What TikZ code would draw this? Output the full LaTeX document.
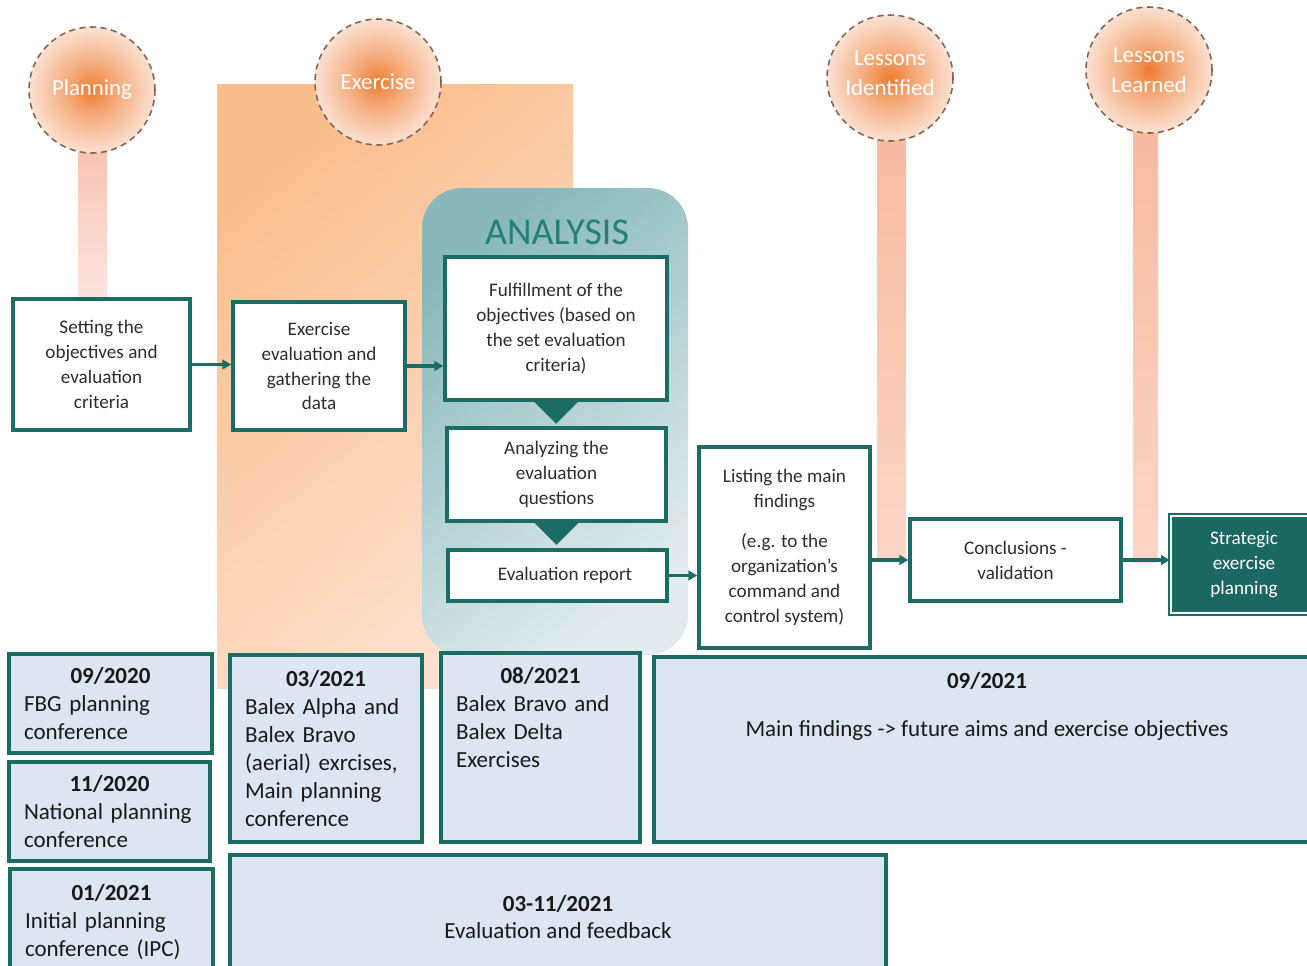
\documentclass[tikz,border=0pt]{standalone}
\usepackage{fontspec}
\setmainfont{Carlito}
\usetikzlibrary{arrows.meta}

\definecolor{tealline}{RGB}{28,108,102}
\definecolor{stratfill}{RGB}{27,104,98}
\definecolor{anatext}{RGB}{36,128,120}
\definecolor{anadark}{RGB}{136,184,186}
\definecolor{analight}{RGB}{226,236,238}
\definecolor{dateblue}{RGB}{220,230,242}
\definecolor{textgray}{RGB}{45,45,45}
\definecolor{textdark}{RGB}{25,25,25}
\definecolor{rectdark}{RGB}{250,190,142}
\definecolor{rectlight}{RGB}{253,226,208}
\definecolor{dashbrown}{RGB}{140,98,78}
\definecolor{phasecore}{RGB}{238,124,48}
\definecolor{phasemid}{RGB}{245,170,122}
\definecolor{phaseedge}{RGB}{251,236,228}
\definecolor{stemtop}{RGB}{248,186,160}
\definecolor{stembot}{RGB}{252,214,198}
\definecolor{plantop}{RGB}{248,196,180}
\definecolor{planbot}{RGB}{252,230,224}

\pgfdeclareradialshading{phaseglow}{\pgfpoint{0bp}{0bp}}{%
  color(0bp)=(phasecore); color(10bp)=(phasemid); color(28bp)=(phaseedge); color(50bp)=(phaseedge)}

\newcommand\datehead[1]{\hfill\textbf{#1}\hfill\null}

\begin{document}
\begin{tikzpicture}[x=0.02cm,y=-0.02cm,
    stepbox/.style={draw=tealline, line width=2pt, fill=white, align=center, text=textgray,
      inner sep=0pt, font=\fontsize{10.9}{14.2}\selectfont},
    datebox/.style={draw=tealline, line width=2.1pt, fill=dateblue, align=left, text=textdark,
      inner xsep=0.3cm, inner ysep=0pt, font=\fontsize{13.1}{15.9}\selectfont},
    datetext/.style={text=textdark, font=\fontsize{13.1}{15.9}\selectfont},
    phase/.style={circle, draw=dashbrown, dash pattern=on 3.5pt off 2.5pt, line width=0.9pt,
      shade, shading=phaseglow, minimum size=2.52cm, inner sep=0pt, text=white, align=center,
      font=\fontsize{13}{17}\selectfont},
    flow/.style={draw=tealline, line width=2pt, -{Triangle[length=5pt,width=5.5pt]}}]

    \useasboundingbox (0,0) rectangle (1307,965);
    \clip (0,0) rectangle (1307,965);

    \shade[top color=rectdark, bottom color=rectlight, shading angle=40] (217,84) rectangle (573,688);
    \shade[top color=anadark, bottom color=analight, shading angle=40, rounded corners=0.8cm] (422,188) rectangle (688,655);
    \node[font=\fontsize{21.6}{26}\selectfont, text=anatext] (anatitle) at (557,232) {ANALYSIS};

    \shade[top color=plantop, bottom color=planbot] (78,150) rectangle (107,300);
    \shade[top color=stemtop, bottom color=stembot] (877,138) rectangle (906,560);
    \shade[top color=stemtop, bottom color=stembot] (1133,130) rectangle (1158,562);

    \node[phase] (plan) at (92,90) {Planning};
    \node[phase] (exer) at (378,82) {Exercise};
    \node[phase] (lessid) at (890,78) {Lessons\\Identified\\[-11pt]};
    \node[phase] (lesslrn) at (1149,70) {Lessons\\Learned};

    \node[stepbox, minimum width=3.54cm, minimum height=2.62cm] (setobj) at (101.5,364.5) {Setting the\\objectives and\\evaluation\\criteria};
    \node[stepbox, minimum width=3.44cm, minimum height=2.56cm] (gather) at (319,366) {Exercise\\evaluation and\\gathering the\\data};
    \node[stepbox, minimum width=4.44cm, minimum height=2.86cm] (fulfil) at (556,328.5) {Fulfillment of the\\objectives (based on\\the set evaluation\\criteria)};
    \node[stepbox, minimum width=4.38cm, minimum height=1.86cm] (questions) at (556.5,474.5) {Analyzing the\\evaluation\\questions};
    \node[stepbox, minimum width=4.38cm, minimum height=1.02cm] (report) at (557.5,575.5) {\hspace{0.3cm}Evaluation report};
    \node[stepbox, minimum width=3.42cm, minimum height=4.02cm] (findings) at (784.5,547.5) {Listing the main\\findings\\[0.8em](e.g. to the\\organization’s\\command and\\control system)};
    \node[stepbox, minimum width=4.22cm, minimum height=1.64cm] (conclude) at (1015.5,560) {Conclusions -\\validation};
    \node[stepbox, fill=stratfill, text=white, double=white, double distance=0.7pt, line width=1.4pt,
      minimum width=2.92cm, minimum height=1.94cm] (strategy) at (1244,564.5) {Strategic\\exercise\\planning};

    \fill[tealline] (fulfil.south) ++(-22,0) -- ++(44,0) -- ++(-22,22) -- cycle;
    \fill[tealline] (questions.south) ++(-22,0) -- ++(44,0) -- ++(-22,22) -- cycle;

    \draw[flow] (setobj.east) -- (setobj.east -| gather.west);
    \draw[flow] (gather.east) -- (gather.east -| fulfil.west);
    \draw[flow] (report.east) -- (report.east -| findings.west);
    \draw[flow] (findings.east |- conclude.west) -- (conclude.west);
    \draw[flow] (conclude.east) -- (conclude.east -| strategy.west);

    \node[datebox, text width=3.46cm, minimum height=1.98cm] (fbg) at (110.5,703.5) {\datehead{09/2020}\\FBG planning\\conference};
    \node[datebox, text width=3.42cm, minimum height=1.98cm] (natl) at (109.5,811.5) {\datehead{11/2020}\\National planning\\conference};
    \node[datebox, text width=3.46cm, minimum height=2.12cm] (ipc) at (111.5,922) {\datehead{01/2021}\\Initial planning\\conference (IPC)};
    \node[datebox, text width=3.24cm, minimum height=3.74cm] (alpha) at (326,748.5) {\datehead{03/2021}\\Balex Alpha and\\Balex Bravo\\(aerial) exrcises,\\Main planning\\conference};
    \node[datebox, minimum width=3.98cm, minimum height=3.78cm] (delta) at (540.5,747.5) {};
    \node[datetext, anchor=north, align=left, text width=3.38cm, yshift=-0.2cm] (deltatext) at (delta.north) {\datehead{08/2021}\\Balex Bravo and\\Balex Delta\\Exercises};
    \node[datebox, minimum width=13.32cm, minimum height=3.7cm] (aims) at (987,749.5) {};
    \node[datetext, anchor=north, align=center, yshift=-0.22cm] (aimstext) at (aims.north) {\textbf{09/2021}\\[0.85em]Main findings -> future aims and exercise objectives};
    \node[datebox, align=center, minimum width=13.12cm, minimum height=2.48cm] (feedback) at (558,917) {\textbf{03-11/2021}\\Evaluation and feedback};
\end{tikzpicture}
\end{document}
